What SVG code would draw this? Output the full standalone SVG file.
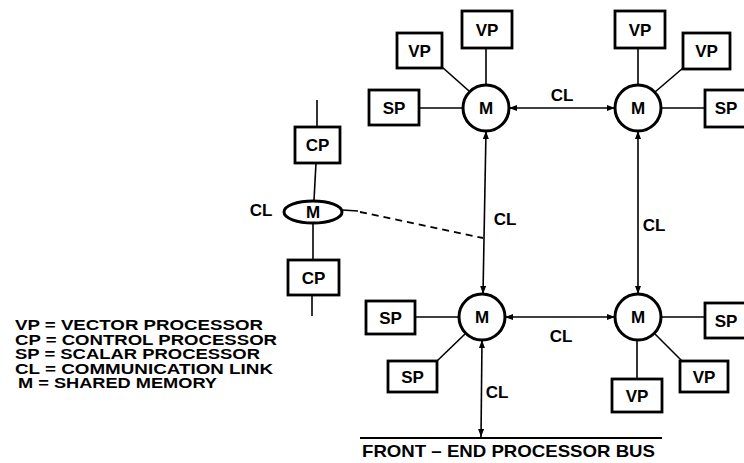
<svg xmlns="http://www.w3.org/2000/svg" width="744" height="463" viewBox="0 0 744 463">
<style>
.box{fill:#fff;stroke:#000;stroke-width:2.8}
.mem{fill:#fff;stroke:#000;stroke-width:3}
.ln{stroke:#000;stroke-width:1.6;fill:none}
.cl{stroke:#000;stroke-width:1.6;fill:none;marker-start:url(#arr);marker-end:url(#arr)}
.dash{stroke:#000;stroke-width:1.8;fill:none;stroke-dasharray:7 5}
text{font-family:"Liberation Sans",Arial,sans-serif;font-weight:bold;fill:#000}
.lb{font-size:17px;text-anchor:middle}
.lg{font-size:14px}
</style>
<defs>
<marker id="arr" markerUnits="userSpaceOnUse" markerWidth="8" markerHeight="6" refX="8" refY="3" orient="auto-start-reverse">
<path d="M0,0 L8,3 L0,6 z" fill="#000"/>
</marker>
</defs>
<rect width="744" height="463" fill="#fff"/>

<g id="connectors">
<line class="ln" x1="486" y1="48" x2="486" y2="85"/>
<line class="ln" x1="442" y1="67" x2="469" y2="91"/>
<line class="ln" x1="419" y1="108" x2="463" y2="108"/>
<line class="ln" x1="638" y1="48" x2="638" y2="85"/>
<line class="ln" x1="683" y1="68" x2="655" y2="92"/>
<line class="ln" x1="661" y1="108" x2="705" y2="108"/>
<line class="ln" x1="415" y1="317" x2="459" y2="317"/>
<line class="ln" x1="437" y1="361" x2="465" y2="334"/>
<line class="ln" x1="661" y1="317" x2="705" y2="317"/>
<line class="ln" x1="655" y1="334" x2="683" y2="362"/>
<line class="ln" x1="637" y1="340" x2="637" y2="379"/>
<line class="cl" x1="509" y1="108" x2="615" y2="108"/>
<line class="cl" x1="505" y1="317" x2="615" y2="317"/>
<line class="cl" x1="486" y1="131" x2="483" y2="294"/>
<line class="cl" x1="638" y1="131" x2="638" y2="294"/>
<line class="cl" x1="482" y1="340" x2="481" y2="437"/>
<line x1="360" y1="438" x2="662" y2="438" stroke="#000" stroke-width="2"/>
<line class="ln" x1="317" y1="100" x2="317" y2="127"/>
<line class="ln" x1="316" y1="163" x2="314" y2="200"/>
<line class="ln" x1="313" y1="223" x2="313" y2="260"/>
<line class="ln" x1="312" y1="295" x2="312" y2="316"/>
<line class="ln" x1="342" y1="210" x2="358" y2="211"/>
<line class="dash" x1="360" y1="212" x2="483" y2="238"/>
</g>

<g id="m-top-left"><circle class="mem" cx="486" cy="108" r="23"/><text class="lb" x="486" y="114">M</text></g>
<g id="m-top-right"><circle class="mem" cx="638" cy="108" r="23"/><text class="lb" x="638" y="114">M</text></g>
<g id="m-bottom-left"><circle class="mem" cx="482" cy="317" r="23"/><text class="lb" x="482" y="323">M</text></g>
<g id="m-bottom-right"><circle class="mem" cx="638" cy="317" r="23"/><text class="lb" x="638" y="323">M</text></g>

<g id="vp-tl-top"><rect class="box" x="462" y="11" width="50" height="37"/><text class="lb" x="487" y="36">VP</text></g>
<g id="vp-tl-left"><rect class="box" x="397" y="33" width="45" height="35"/><text class="lb" x="419.5" y="57">VP</text></g>
<g id="sp-tl"><rect class="box" x="369" y="90" width="50" height="35"/><text class="lb" x="394" y="114">SP</text></g>

<g id="vp-tr-top"><rect class="box" x="615" y="11" width="50" height="37"/><text class="lb" x="640" y="36">VP</text></g>
<g id="vp-tr-right"><rect class="box" x="683" y="33" width="47" height="36"/><text class="lb" x="706.5" y="57">VP</text></g>
<g id="sp-tr"><rect class="box" x="705" y="90" width="50" height="37"/><text class="lb" x="726" y="114">SP</text></g>

<g id="sp-bl"><rect class="box" x="366" y="301" width="49" height="33"/><text class="lb" x="390.5" y="324">SP</text></g>
<g id="sp-bl-low"><rect class="box" x="388" y="361" width="49" height="31"/><text class="lb" x="412.5" y="383">SP</text></g>

<g id="sp-br"><rect class="box" x="705" y="303" width="50" height="35"/><text class="lb" x="726" y="327">SP</text></g>
<g id="vp-br-right"><rect class="box" x="680" y="361" width="48" height="31"/><text class="lb" x="704" y="383">VP</text></g>
<g id="vp-br-bottom"><rect class="box" x="612" y="379" width="50" height="33"/><text class="lb" x="637" y="402">VP</text></g>

<g id="cp-top"><rect class="box" x="295" y="127" width="45" height="36"/><text class="lb" x="317.5" y="151">CP</text></g>
<g id="m-left"><ellipse class="mem" cx="313" cy="212" rx="29" ry="11"/><text class="lb" x="313" y="218">M</text></g>
<g id="cp-bottom"><rect class="box" x="288" y="260" width="51" height="35"/><text class="lb" x="313.5" y="284">CP</text></g>

<g id="labels">
<text class="lb" x="562" y="101">CL</text>
<text class="lb" x="561" y="342">CL</text>
<text class="lb" x="505" y="225">CL</text>
<text class="lb" x="654" y="231">CL</text>
<text class="lb" x="497" y="398">CL</text>
<text class="lb" x="261" y="216">CL</text>
<text x="362" y="457" font-size="17" textLength="293" lengthAdjust="spacingAndGlyphs">FRONT – END PROCESSOR BUS</text>
</g>

<g id="legend">
<text class="lg" x="15" y="330" textLength="248" lengthAdjust="spacingAndGlyphs">VP = VECTOR PROCESSOR</text>
<text class="lg" x="15" y="344.5" textLength="262" lengthAdjust="spacingAndGlyphs">CP = CONTROL PROCESSOR</text>
<text class="lg" x="15" y="359" textLength="245" lengthAdjust="spacingAndGlyphs">SP = SCALAR PROCESSOR</text>
<text class="lg" x="15" y="373.5" textLength="258" lengthAdjust="spacingAndGlyphs">CL = COMMUNICATION LINK</text>
<text class="lg" x="18" y="388" textLength="199" lengthAdjust="spacingAndGlyphs">M = SHARED MEMORY</text>
</g>
</svg>
